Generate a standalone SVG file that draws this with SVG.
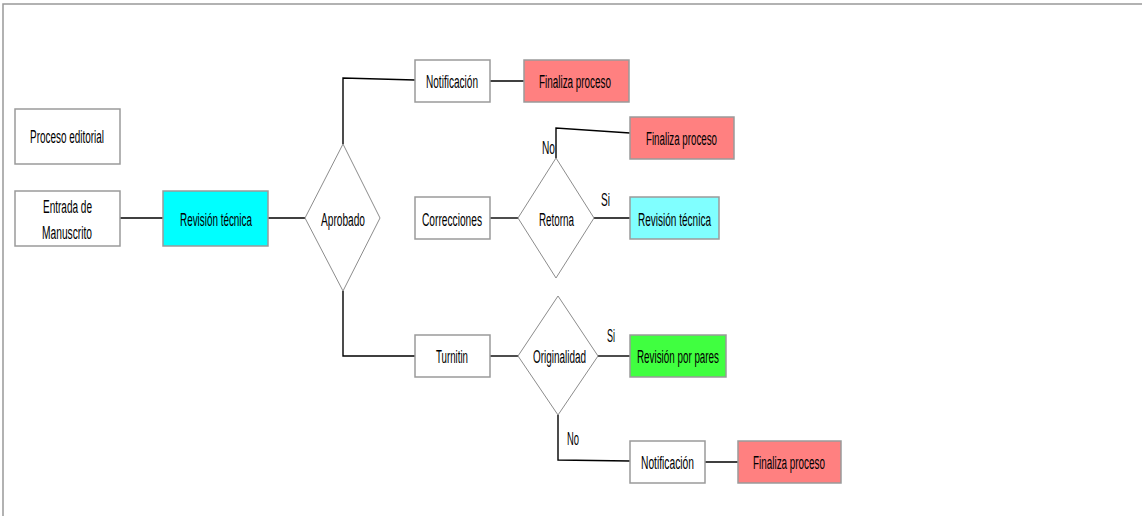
<svg xmlns="http://www.w3.org/2000/svg" width="1142" height="516" viewBox="0 0 1142 516">
<style>
.box{stroke:#9a9a9a;stroke-width:1.5}
.w{fill:#fff}
.red{fill:#ff8080}
.cyan{fill:#00ffff}
.lcyan{fill:#80ffff}
.green{fill:#40ff40}
.dia{fill:#fff;stroke:#8c8c8c;stroke-width:1}
.t{font-family:"Liberation Sans",Arial,sans-serif;font-size:18px;fill:#000}
.con{fill:none;stroke:#000;stroke-width:1.4}
</style>
<rect x="0" y="0" width="1142" height="516" fill="#fff"/>
<path d="M3 516V4H1142" fill="none" stroke="#999" stroke-width="1.5"/>
<g id="connectors">
<path class="con" d="M120 218H163"/>
<path class="con" d="M268 218H305"/>
<path class="con" d="M343 144V78L415 80"/>
<path class="con" d="M490 81H524"/>
<path class="con" d="M343 291V356H415"/>
<path class="con" d="M490 218H518"/>
<path class="con" d="M556 158V128L630 133"/>
<path class="con" d="M594 218H630"/>
<path class="con" d="M490 356H518"/>
<path class="con" d="M598 356H630"/>
<path class="con" d="M558 415V460L630 461"/>
<path class="con" d="M705 462H738"/>
<text class="t" x="542" y="154" textLength="13" lengthAdjust="spacingAndGlyphs">No</text>
<text class="t" x="601" y="206" textLength="9" lengthAdjust="spacingAndGlyphs">Si</text>
<text class="t" x="607" y="342" textLength="8" lengthAdjust="spacingAndGlyphs">Si</text>
<text class="t" x="567" y="445" textLength="12" lengthAdjust="spacingAndGlyphs">No</text>
</g>
<g id="proceso-editorial"><rect class="box w" x="15" y="109" width="105" height="55"/><text class="t" x="30" y="143" textLength="74" lengthAdjust="spacingAndGlyphs">Proceso editorial</text></g>
<g id="entrada"><rect class="box w" x="15" y="191" width="105" height="55"/><text class="t" x="43" y="213" textLength="49" lengthAdjust="spacingAndGlyphs">Entrada de</text><text class="t" x="42" y="239" textLength="50" lengthAdjust="spacingAndGlyphs">Manuscrito</text></g>
<g id="revision-tecnica"><rect class="box cyan" x="163" y="191" width="105" height="55"/><text class="t" x="180" y="226" textLength="72" lengthAdjust="spacingAndGlyphs">Revisión técnica</text></g>
<g id="aprobado"><path class="dia" d="M343 144L380 218L343 291L305 218Z"/><text class="t" x="321" y="226" textLength="44" lengthAdjust="spacingAndGlyphs">Aprobado</text></g>
<g id="notificacion1"><rect class="box w" x="415" y="60" width="75" height="42"/><text class="t" x="426" y="88" textLength="52" lengthAdjust="spacingAndGlyphs">Notificación</text></g>
<g id="finaliza1"><rect class="box red" x="524" y="60" width="105" height="42"/><text class="t" x="539" y="88" textLength="72" lengthAdjust="spacingAndGlyphs">Finaliza proceso</text></g>
<g id="finaliza2"><rect class="box red" x="630" y="117" width="104" height="42"/><text class="t" x="646" y="145" textLength="71" lengthAdjust="spacingAndGlyphs">Finaliza proceso</text></g>
<g id="correcciones"><rect class="box w" x="415" y="197" width="75" height="42"/><text class="t" x="422" y="226" textLength="60" lengthAdjust="spacingAndGlyphs">Correcciones</text></g>
<g id="retorna"><path class="dia" d="M556 158L594 218L556 278L518 218Z"/><text class="t" x="539" y="226" textLength="35" lengthAdjust="spacingAndGlyphs">Retorna</text></g>
<g id="revision-tecnica2"><rect class="box lcyan" x="630" y="197" width="89" height="42"/><text class="t" x="638" y="226" textLength="73" lengthAdjust="spacingAndGlyphs">Revisión técnica</text></g>
<g id="turnitin"><rect class="box w" x="415" y="335" width="75" height="42"/><text class="t" x="436" y="363" textLength="32" lengthAdjust="spacingAndGlyphs">Turnitin</text></g>
<g id="originalidad"><path class="dia" d="M558 296L598 356L558 415L518 356Z"/><text class="t" x="533" y="363" textLength="53" lengthAdjust="spacingAndGlyphs">Originalidad</text></g>
<g id="revision-pares"><rect class="box green" x="630" y="335" width="96" height="42"/><text class="t" x="637" y="363" textLength="82" lengthAdjust="spacingAndGlyphs">Revisión por pares</text></g>
<g id="notificacion2"><rect class="box w" x="630" y="441" width="75" height="42"/><text class="t" x="641" y="469" textLength="53" lengthAdjust="spacingAndGlyphs">Notificación</text></g>
<g id="finaliza3"><rect class="box red" x="738" y="441" width="103" height="42"/><text class="t" x="753" y="469" textLength="72" lengthAdjust="spacingAndGlyphs">Finaliza proceso</text></g>
</svg>
